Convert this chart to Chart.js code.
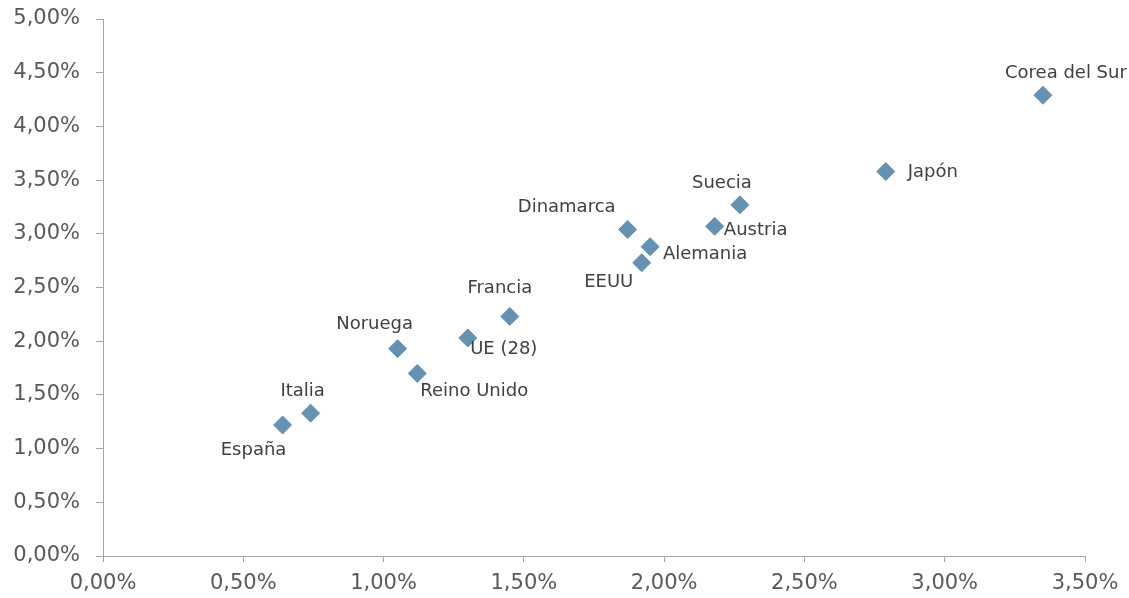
<!DOCTYPE html>
<html>
<head>
<meta charset="utf-8">
<script src="https://cdn.jsdelivr.net/npm/chart.js@4/dist/chart.umd.min.js"></script>
<style>
  html, body { margin: 0; padding: 0; background: #fff; }
  #wrap { width: 1129px; height: 598px; }
</style>
</head>
<body>
<div id="wrap"><canvas id="chart"></canvas></div>
<script>
const PAISES = ["España", "Italia", "Noruega", "Reino Unido", "UE (28)", "Francia",
  "Dinamarca", "EEUU", "Alemania", "Austria", "Suecia", "Japón", "Corea del Sur"];
const EJE_X = [0.64, 0.74, 1.05, 1.12, 1.30, 1.45, 1.87, 1.92, 1.95, 2.18, 2.27, 2.79, 3.35];
const EJE_Y = [1.22, 1.33, 1.93, 1.70, 2.03, 2.23, 3.04, 2.73, 2.88, 3.07, 3.27, 3.58, 4.29];

// label offsets from each marker (px), same order as PAISES
const LABEL_POS = [
  [-29, 25], [-8, -22], [-23, -24], [57, 18], [36, 11], [-10, -28],
  [-61, -22], [-33, 20], [55, 8], [41, 4], [-18, -21], [47, 1], [23, -22],
];

const FONT = "'DejaVu Sans', sans-serif";
const AXIS = "#a6a6a6";

function pct(v) {
  return Number(v).toFixed(2).replace(".", ",") + "%";
}

const etiquetas = {
  id: "etiquetas",
  afterDatasetsDraw(chart) {
    const ctx = chart.ctx;
    const meta = chart.getDatasetMeta(0);
    ctx.save();
    ctx.font = "18px " + FONT;
    ctx.fillStyle = "#404040";
    ctx.textAlign = "center";
    ctx.textBaseline = "middle";
    meta.data.forEach((pt, i) => {
      const [dx, dy] = LABEL_POS[i];
      ctx.fillText(PAISES[i], pt.x + dx, pt.y + dy);
    });
    ctx.restore();
  },
};

new Chart(document.getElementById("chart"), {
  type: "scatter",
  data: {
    datasets: [{
      data: EJE_X.map((x, i) => ({ x, y: EJE_Y[i] })),
      pointStyle: "rectRot",
      pointRadius: 9,
      backgroundColor: "#6591b2",
      borderColor: "#6591b2",
      borderWidth: 1,
    }],
  },
  options: {
    responsive: true,
    maintainAspectRatio: false,
    animation: false,
    layout: { padding: { top: 19, right: 44, left: 0, bottom: 0 } },
    plugins: { legend: { display: false }, tooltip: { enabled: false } },
    scales: {
      x: {
        min: 0, max: 3.5,
        ticks: { stepSize: 0.5, callback: pct, color: "#595959", font: { family: FONT, size: 21 }, padding: 9 },
        grid: { display: true, drawOnChartArea: false, drawTicks: true, tickLength: 6, color: AXIS },
        border: { color: AXIS },
        afterFit: (s) => { s.height = 42; },
      },
      y: {
        min: 0, max: 5,
        ticks: { stepSize: 0.5, callback: pct, color: "#595959", font: { family: FONT, size: 21 }, padding: 16 },
        grid: { display: true, drawOnChartArea: false, drawTicks: true, tickLength: 7, color: AXIS },
        border: { color: AXIS },
        afterFit: (s) => { s.width = 103; s.paddingTop = 0; s.paddingBottom = 0; },
      },
    },
  },
  plugins: [etiquetas],
});
</script>
</body>
</html>
